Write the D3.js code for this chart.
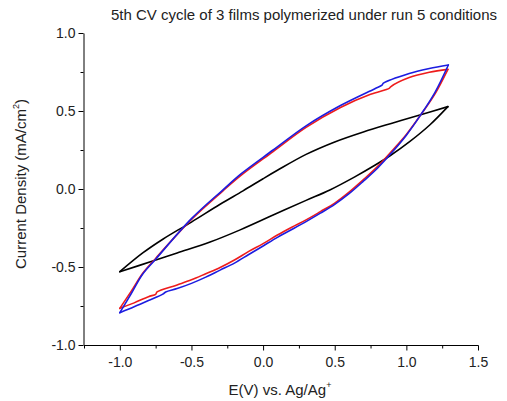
<!DOCTYPE html>
<html>
<head>
<meta charset="utf-8">
<script src="https://cdn.jsdelivr.net/npm/d3@7"></script>
<style>
  html, body { margin: 0; padding: 0; background: #fff; }
  svg { display: block; font-family: "Liberation Sans", Arial, sans-serif; }
</style>
</head>
<body>
<svg id="chart" width="507" height="401"></svg>
<script>
// Cyclic voltammograms, [E (V), J (mA/cm^2)] pairs.
// Each film: forward scan (-1.0 V -> 1.3 V) and return scan (1.3 V -> -1.0 V).
const film1Forward = [
  [-1.0, -0.53], [-0.84, -0.41], [-0.70, -0.322], [-0.50, -0.212], [-0.30, -0.098],
  [-0.14, -0.012], [0.0, 0.066], [0.10, 0.12], [0.30, 0.222], [0.50, 0.302],
  [0.70, 0.366], [0.90, 0.422], [1.10, 0.476], [1.29, 0.528]
];
const film1Return = [
  [1.29, 0.528], [1.165, 0.412], [1.025, 0.305], [0.886, 0.213], [0.78, 0.152],
  [0.64, 0.078], [0.466, -0.006], [0.30, -0.073], [0.07, -0.167], [-0.16, -0.262],
  [-0.37, -0.34], [-0.60, -0.41], [-0.77, -0.462], [-1.0, -0.53]
];
const film2Forward = [
  [-1.0, -0.765], [-0.92, -0.655], [-0.84, -0.54], [-0.75, -0.445], [-0.50, -0.195],
  [-0.28, -0.012], [-0.15, 0.09], [0.07, 0.24], [0.30, 0.395], [0.54, 0.523],
  [0.75, 0.607], [0.88, 0.645], [0.89, 0.655], [1.02, 0.714], [1.16, 0.748], [1.29, 0.767]
];
const film2Return = [
  [1.29, 0.767], [1.20, 0.61], [1.10, 0.475], [1.00, 0.35], [0.90, 0.245],
  [0.80, 0.145], [0.70, 0.06], [0.60, -0.02], [0.50, -0.09], [0.40, -0.145],
  [0.30, -0.198], [0.20, -0.245], [0.10, -0.295], [0.00, -0.35], [-0.10, -0.40],
  [-0.20, -0.455], [-0.30, -0.503], [-0.40, -0.543], [-0.50, -0.582], [-0.60, -0.615],
  [-0.74, -0.66], [-0.75, -0.675], [-0.80, -0.69], [-0.90, -0.73], [-1.0, -0.765]
];
const film3Forward = [
  [-1.0, -0.793], [-0.92, -0.67], [-0.84, -0.545], [-0.75, -0.45], [-0.50, -0.19],
  [-0.28, -0.005], [-0.15, 0.10], [0.07, 0.25], [0.30, 0.405], [0.54, 0.535],
  [0.78, 0.643], [0.83, 0.666], [0.84, 0.678], [1.02, 0.74], [1.16, 0.772], [1.293, 0.795]
];
const film3Return = [
  [1.293, 0.795], [1.20, 0.62], [1.10, 0.475], [1.00, 0.345], [0.90, 0.235],
  [0.80, 0.135], [0.70, 0.05], [0.60, -0.03], [0.50, -0.098], [0.40, -0.155],
  [0.30, -0.209], [0.20, -0.26], [0.10, -0.31], [0.00, -0.365], [-0.10, -0.42],
  [-0.20, -0.475], [-0.30, -0.52], [-0.40, -0.565], [-0.50, -0.605], [-0.60, -0.638],
  [-0.68, -0.66], [-0.70, -0.674], [-0.80, -0.715], [-0.90, -0.755], [-1.0, -0.793]
];

const filmNames = ["film 1", "film 2", "film 3"];
const filmColors = ["#000000", "#ee1c1c", "#1c1ce0"];
const xTicks = [-1.0, -0.5, 0.0, 0.5, 1.0, 1.5];
const yTicks = [-1.0, -0.5, 0.0, 0.5, 1.0];
const xMinorTicks = [-1.25, -0.75, -0.25, 0.25, 0.75, 1.25];
const yMinorTicks = [-0.75, -0.25, 0.25, 0.75];

const titleText = "5th CV cycle of 3 films polymerized under run 5 conditions";
const xLabel = "E(V) vs. Ag/Ag";
const yLabel = "Current Density (mA/cm";

const svg = d3.select("#chart");
const plotLeft = 84, plotRight = 478, plotTop = 33, plotBottom = 345;

const x = d3.scaleLinear().domain([-1.25, 1.5]).range([plotLeft, plotRight]);
const y = d3.scaleLinear().domain([-1.0, 1.0]).range([plotBottom, plotTop]);

// tick labels use a plain hyphen for negatives
const fmt = d => d.toFixed(1);

// axes
const xAxis = d3.axisBottom(x).tickValues(xTicks).tickFormat(fmt).tickSize(5).tickSizeOuter(0);
const yAxis = d3.axisLeft(y).tickValues(yTicks).tickFormat(fmt).tickSize(5).tickSizeOuter(0);

const gx = svg.append("g").attr("transform", `translate(0,${plotBottom + 0.5})`).call(xAxis);
const gy = svg.append("g").attr("transform", `translate(${plotLeft - 0.5},0)`).call(yAxis);

gx.append("g").selectAll("line").data(xMinorTicks).join("line")
  .attr("x1", d => x(d) + 0.5).attr("x2", d => x(d) + 0.5)
  .attr("y1", 0).attr("y2", 3).attr("stroke", "#000");
gy.append("g").selectAll("line").data(yMinorTicks).join("line")
  .attr("y1", d => y(d) + 0.5).attr("y2", d => y(d) + 0.5)
  .attr("x1", 0).attr("x2", -3).attr("stroke", "#000");

[gx, gy].forEach(g => {
  g.select(".domain").attr("stroke", "#000");
  g.selectAll(".tick line").attr("stroke", "#000");
  g.selectAll(".tick text").attr("fill", "#222").style("font-size", "14px")
    .style("font-family", "'Liberation Sans', Arial, sans-serif");
});
gx.selectAll(".tick text").attr("dy", "0.9em").attr("y", 9);
gy.selectAll(".tick text").attr("x", -8);
gx.select(".domain").attr("d", `M${plotLeft},0H${plotRight + 0.5}`);

// curves
const line = d3.line().x(d => x(d[0])).y(d => y(d[1])).curve(d3.curveCatmullRom.alpha(0.5));
const films = [
  [film1Forward, film1Return],
  [film2Forward, film2Return],
  [film3Forward, film3Return]
];
films.forEach((branches, i) => {
  const g = svg.append("g").attr("class", "cv").attr("data-name", filmNames[i]);
  branches.forEach(b => {
    g.append("path").attr("d", line(b)).attr("fill", "none")
      .attr("stroke", filmColors[i]).attr("stroke-width", 1.6)
      .attr("stroke-linejoin", "round").attr("stroke-linecap", "round");
  });
});

// text
svg.append("text").attr("x", 111).attr("y", 20).attr("fill", "#222")
  .style("font-size", "15px").text(titleText);

const xl = svg.append("text").attr("x", 280).attr("y", 395).attr("text-anchor", "middle")
  .attr("fill", "#222").style("font-size", "15px").text(xLabel);
xl.append("tspan").attr("dy", -7).style("font-size", "9px").text("+");

const yl = svg.append("text").attr("transform", "translate(26,184) rotate(-90)")
  .attr("text-anchor", "middle").attr("fill", "#222").style("font-size", "15px").text(yLabel);
yl.append("tspan").attr("dy", -7).style("font-size", "9px").text("2");
yl.append("tspan").attr("dy", 7).text(")");
</script>
</body>
</html>
